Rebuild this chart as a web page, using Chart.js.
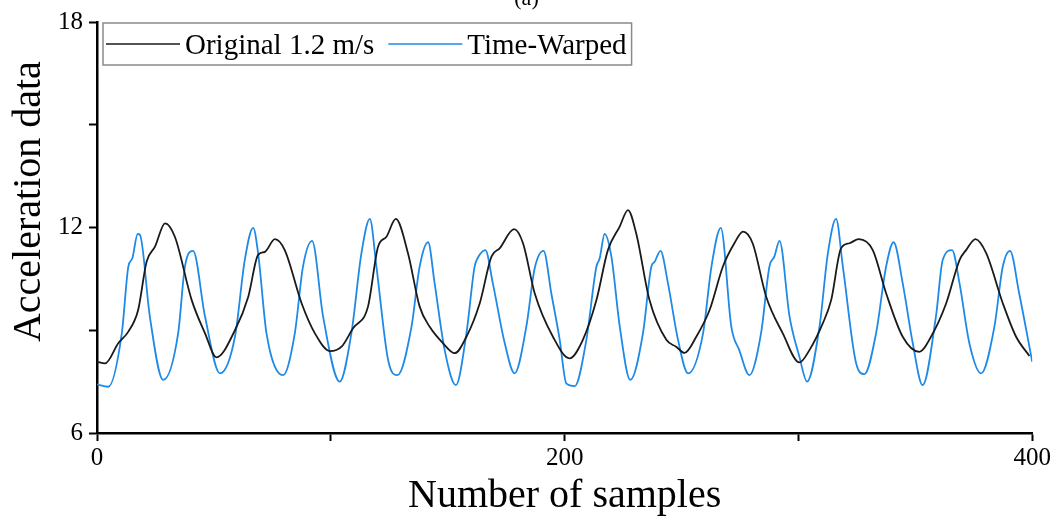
<!DOCTYPE html>
<html>
<head>
<meta charset="utf-8">
<script src="https://cdn.jsdelivr.net/npm/chart.js@4.4.1/dist/chart.umd.min.js"></script>
<style>
body { margin: 0; background: #fff; }
#wrap { width: 1053px; height: 517px; }
</style>
</head>
<body>
<div id="wrap"><canvas id="chart" width="1053" height="517"></canvas></div>
<script>
'use strict'
const seriesNames = ['Original 1.2 m/s', 'Time-Warped'];
const xTicks = [0, 200, 400];
const yTicks = [6, 12, 18];
const yTitle = 'Acceleration data';

// original walk (sample index / value)
const origX = [0, 3.4, 9.1, 13.4, 17.6, 21.2, 24.8, 29.1, 33.3, 40.5, 46.2, 51.1, 59, 64.7, 68.9, 71.8, 76.1, 80.3, 87.5, 93.2,
    99.6, 104.6, 109.5, 115.9, 120.2, 123.8, 127.8, 133, 138, 142.3, 148, 153, 158, 163.7, 168.7, 172.2, 178.4, 182.2, 187.2, 195,
    202.1, 207.8, 213.6, 218.5, 223.5, 227.1, 230.6, 236.3, 243.5, 247.7, 251.3, 256.3, 262, 267.7, 272.6, 276.3, 280.4, 286.2, 293.3, 300.4,
    304.7, 310.4, 314, 318.2, 321.8, 325.8, 331.8, 337.5, 344.6, 351.7, 356.7, 363.2, 368.9, 371.7, 375.7, 380.3, 387.4, 393.1, 398.8];
const origY = [8.08, 8.03, 8.62, 8.96, 9.59, 11.0, 11.44, 12.12, 11.73, 9.88, 8.91, 8.21, 9.0, 9.98, 11.2, 11.29, 11.66, 11.34, 9.79, 8.91,
    8.39, 8.52, 9.06, 9.69, 11.44, 11.73, 12.25, 11.25, 9.69, 9.1, 8.62, 8.33, 8.81, 9.79, 11.15, 11.39, 11.95, 11.54, 10.08, 8.81,
    8.18, 8.72, 9.88, 11.34, 12.02, 12.51, 11.83, 9.88, 8.72, 8.52, 8.34, 8.81, 9.59, 10.86, 11.54, 11.88, 11.54, 9.98, 8.91, 8.06,
    8.42, 9.2, 9.88, 11.39, 11.54, 11.66, 11.34, 10.08, 8.81, 8.37, 8.81, 9.79, 11.05, 11.34, 11.66, 11.25, 9.79, 8.81, 8.25];

// time-warped walk
const warpX = [0, 4.8, 10.6, 13.4, 15.1, 17.4, 18.4, 22.6, 28.3, 34.7, 37.6, 41.1, 46.2, 52.6, 59, 63.2, 66.8, 68.9, 72.5, 79.6,
    84.6, 88.1, 92, 96.7, 103.8, 108.8, 113.1, 116.7, 119.5, 124.5, 128.5, 134.5, 138, 141.6, 144.4, 148.7, 153.5, 158, 161.5, 163,
    166.1, 169.3, 174.4, 178.6, 183.6, 187.2, 191, 194.3, 197.9, 200.7, 204.3, 209.3, 213.6, 215, 217.1, 220, 223.6, 228.1, 233.5, 237.1,
    238.5, 241, 244.2, 248.5, 252.8, 259.2, 262.8, 266.8, 271.3, 274.7, 279, 284, 287.6, 289.7, 291.9, 296.2, 300.4, 303.7, 309, 312.6,
    316.1, 319, 324.7, 328.2, 333.2, 337.5, 340.7, 344.6, 348.9, 353.1, 358.8, 361.7, 365.7, 368.9, 373.1, 378.1, 383.8, 387.4, 390.5, 394.4, 400];
const warpY = [7.42, 7.35, 8.91, 10.86, 11.1, 11.81, 11.78, 9.4, 7.55, 8.91, 10.86, 11.32, 9.4, 7.74, 8.81, 11.05, 11.99, 11.25, 8.91, 7.69,
    8.91, 10.86, 11.61, 9.4, 7.5, 8.91, 11.25, 12.25, 10.86, 8.13, 7.69, 9.1, 10.86, 11.57, 10.37, 8.42, 7.4, 8.91, 10.86, 11.13,
    11.34, 10.37, 8.62, 7.74, 9.1, 10.81, 11.32, 10.08, 8.72, 7.45, 7.37, 8.72, 10.86, 11.1, 11.81, 11.15, 9.1, 7.55, 8.91, 10.86,
    11.0, 11.32, 10.37, 8.72, 7.74, 8.91, 10.86, 11.99, 9.1, 8.42, 7.69, 8.91, 10.86, 11.15, 11.61, 9.4, 8.23, 7.5, 9.1, 11.25,
    12.25, 10.86, 8.03, 7.72, 8.91, 10.86, 11.57, 10.37, 8.62, 7.4, 9.4, 11.05, 11.34, 10.37, 8.62, 7.74, 9.1, 10.86, 11.32, 10.08, 8.08];

const serif = "'Liberation Serif', 'DejaVu Serif', serif";

function toPoints(xs, ys) {
    return xs.map((x, i) => ({ x: x, y: ys[i] }));
}

// framed legend inside the plot area + y title placed a bit above centre like the original
const extras = {
    id: 'extras',
    afterDraw(chart) {
        const ctx = chart.ctx;
        const area = chart.chartArea;
        const lineLen = 74;
        ctx.save();
        ctx.font = '29px ' + serif;
        const items = chart.data.datasets.map(ds => ({
            label: ds.label, color: ds.borderColor, w: ctx.measureText(ds.label).width
        }));
        const left = area.left + 6, top = area.top + 1, h = 42;
        let total = 3;
        items.forEach((it, i) => { total += lineLen + 5 + it.w + (i < items.length - 1 ? 14 : 5); });
        ctx.strokeStyle = '#8a8a8a';
        ctx.lineWidth = 1.5;
        ctx.strokeRect(left, top, total, h);
        const mid = top + h / 2;
        let x = left + 3;
        ctx.textBaseline = 'middle';
        ctx.fillStyle = '#000';
        items.forEach(it => {
            ctx.strokeStyle = it.color;
            ctx.lineWidth = 1.5;
            ctx.beginPath();
            ctx.moveTo(x, mid);
            ctx.lineTo(x + lineLen, mid);
            ctx.stroke();
            x += lineLen + 5;
            ctx.fillText(it.label, x, mid + 2);
            x += it.w + 14;
        });

        ctx.font = '40px ' + serif;
        ctx.textAlign = 'center';
        ctx.translate(29, area.top + (area.bottom - area.top) * 0.437);
        ctx.rotate(-Math.PI / 2);
        ctx.fillText(yTitle, 0, 0);
        ctx.restore();
    }
};

new Chart(document.getElementById('chart'), {
    type: 'line',
    data: {
        datasets: [{
            label: seriesNames[0],
            data: toPoints(origX, origY),
            borderColor: '#1a1a1a',
            borderWidth: 1.8
        }, {
            label: seriesNames[1],
            data: toPoints(warpX, warpY),
            borderColor: '#1e8ae8',
            borderWidth: 1.8
        }]
    },
    options: {
        responsive: false,
        animation: false,
        layout: { padding: { top: 0, right: 20, left: 20, bottom: 0 } },
        elements: {
            point: { radius: 0 },
            line: { cubicInterpolationMode: 'monotone', fill: false }
        },
        plugins: {
            legend: { display: false },
            tooltip: { enabled: false },
            title: {
                display: true,
                text: '(a)',
                color: '#000',
                font: { family: serif, size: 22, weight: 'normal' },
                padding: { top: -14.2, bottom: 9.8 }
            }
        },
        scales: {
            x: {
                type: 'linear',
                min: 0,
                max: 400,
                afterFit: s => { s.height = 84; },
                ticks: {
                    stepSize: 100,
                    maxRotation: 0,
                    color: '#000',
                    padding: 2,
                    font: { family: serif, size: 25 },
                    callback: v => xTicks.includes(v) ? v : ''
                },
                grid: { drawOnChartArea: false, drawTicks: true, tickLength: 8, tickColor: '#000', tickWidth: 2 },
                border: { color: '#000', width: 2.5 },
                title: {
                    display: true,
                    text: 'Number of samples',
                    color: '#000',
                    font: { family: serif, size: 40 },
                    padding: { top: 0, bottom: -3 }
                }
            },
            y: {
                min: 6,
                max: 18,
                afterFit: s => { s.width = 77; },
                ticks: {
                    stepSize: 3,
                    color: '#000',
                    padding: 6,
                    font: { family: serif, size: 25 },
                    callback: v => yTicks.includes(v) ? v : ''
                },
                grid: { drawOnChartArea: false, drawTicks: true, tickLength: 8, tickColor: '#000', tickWidth: 2 },
                border: { color: '#000', width: 2.5 }
            }
        }
    },
    plugins: [extras]
});
</script>
</body>
</html>
